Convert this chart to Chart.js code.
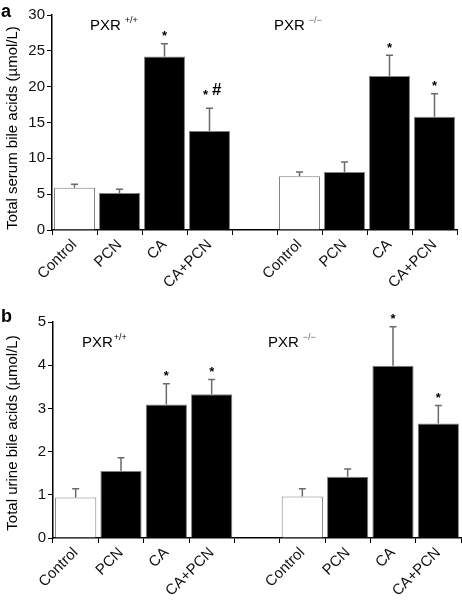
<!DOCTYPE html>
<html>
<head>
<meta charset="utf-8">
<script src="https://cdn.jsdelivr.net/npm/chart.js@4"></script>
<style>
  html, body { margin: 0; padding: 0; background: #fff; }
  .panel { position: relative; width: 462px; }
  canvas { display: block; }
</style>
</head>
<body>
<div class="panel" style="height:300px"><canvas id="serumChart" width="462" height="300"></canvas></div>
<div class="panel" style="height:302px"><canvas id="urineChart" width="462" height="302"></canvas></div>
<script>
// categories (empty slot separates the two genotypes)
const groups = ['Control', 'PCN', 'CA', 'CA+PCN', '', 'Control', 'PCN', 'CA', 'CA+PCN'];
const barColors = ['#ffffff', '#000000', '#000000', '#000000', '#000000', '#ffffff', '#000000', '#000000', '#000000'];

// panel a - serum
const serumValues = [5.9, 5.15, 24.2, 13.8, null, 7.5, 8.1, 21.5, 15.8];
const serumErrors = [0.5, 0.55, 1.8, 3.2, null, 0.6, 1.4, 2.9, 3.2];
const serumMarks = ['', '', '*', '*#', '', '', '', '*', '*'];
const serumTicks = [0, 5, 10, 15, 20, 25, 30];

// panel b - urine
const urineValues = [0.94, 1.55, 3.09, 3.33, null, 0.96, 1.42, 3.99, 2.65];
const urineErrors = [0.2, 0.31, 0.48, 0.34, null, 0.18, 0.18, 0.9, 0.42];
const urineMarks = ['', '', '*', '*', '', '', '', '*', '*'];
const urineTicks = [0, 1, 2, 3, 4, 5];

const FONT = '"Liberation Sans", Arial, sans-serif';

// error bars + significance marks, drawn through the chart scales
const errorBarPlugin = {
    id: 'errorBars',
    afterDatasetsDraw(chart, args, opts) {
        const ctx = chart.ctx;
        const xs = chart.scales.x, ys = chart.scales.y;
        ctx.save();
        opts.values.forEach((v, i) => {
            if (v == null) return;
            const x = xs.getPixelForValue(i);
            const y0 = ys.getPixelForValue(v);
            const y1 = ys.getPixelForValue(v + opts.errors[i]);
            ctx.strokeStyle = '#6a6a6a';
            ctx.lineWidth = 1.5;
            ctx.beginPath();
            ctx.moveTo(x, y0);
            ctx.lineTo(x, y1);
            ctx.moveTo(x - 3.5, y1);
            ctx.lineTo(x + 3.5, y1);
            ctx.stroke();
            const mark = opts.marks[i];
            if (mark === '*') {
                ctx.fillStyle = '#000';
                ctx.font = 'bold 13px ' + FONT;
                ctx.textAlign = 'center';
                ctx.textBaseline = 'middle';
                ctx.fillText('*', x, y1 - 7);
            } else if (mark === '*#') {
                ctx.fillStyle = '#000';
                ctx.font = 'bold 13px ' + FONT;
                ctx.textAlign = 'center';
                ctx.textBaseline = 'middle';
                ctx.fillText('*', x - 4, y1 - 13);
                ctx.font = 'italic bold 17px ' + FONT;
                ctx.fillText('#', x + 7, y1 - 18);
            }
        });
        ctx.restore();
    }
};

// panel letter, y-axis title and genotype labels
const annotatePlugin = {
    id: 'annotate',
    afterDraw(chart, args, opts) {
        const ctx = chart.ctx;
        ctx.save();
        ctx.fillStyle = '#000';
        ctx.textBaseline = 'middle';
        ctx.font = 'bold 18px ' + FONT;
        ctx.textAlign = 'left';
        ctx.fillText(opts.letter, 1, opts.letterY);

        ctx.translate(opts.titleX, opts.titleY);
        ctx.rotate(-Math.PI / 2);
        ctx.textAlign = 'center';
        ctx.font = '15px ' + FONT;
        ctx.fillText(opts.title, 0, 0);
        ctx.restore();

        ctx.save();
        ctx.fillStyle = '#000';
        ctx.textBaseline = 'middle';
        ctx.textAlign = 'left';
        opts.labels.forEach(l => {
            ctx.font = '15px ' + FONT;
            ctx.fillText('PXR', l.x, l.y);
            const w = ctx.measureText('PXR').width;
            ctx.font = '9px ' + FONT;
            ctx.fillStyle = l.supColor || '#000';
            ctx.fillText(l.sup, l.x + w + l.gap, l.y - 5);
            ctx.fillStyle = '#000';
        });
        ctx.restore();
    }
};

function makeChart(id, values, errors, marks, ticks, yMax, area, annot) {
    return new Chart(document.getElementById(id), {
        type: 'bar',
        data: {
            labels: groups,
            datasets: [{
                data: values,
                backgroundColor: barColors,
                borderColor: '#808080',
                borderWidth: 1,
                categoryPercentage: 1,
                barPercentage: 0.91
            }]
        },
        options: {
            responsive: false,
            animation: false,
            layout: { padding: { top: area.top, right: area.right, left: 0, bottom: 0 } },
            plugins: {
                legend: { display: false },
                tooltip: { enabled: false },
                errorBars: { values: values, errors: errors, marks: marks },
                annotate: annot
            },
            scales: {
                x: {
                    grid: { display: true, drawOnChartArea: false, drawTicks: true, tickLength: 5, color: '#000', offset: true },
                    border: { color: '#000', width: 1.5 },
                    ticks: {
                        color: '#111',
                        font: { family: FONT, size: 15 },
                        maxRotation: 45,
                        minRotation: 45,
                        autoSkip: false,
                        padding: 1
                    },
                    afterFit(scale) { scale.height = area.xHeight; }
                },
                y: {
                    min: 0,
                    max: yMax,
                    afterBuildTicks(scale) { scale.ticks = ticks.map(v => ({ value: v })); },
                    grid: { display: true, drawOnChartArea: false, drawTicks: true, tickLength: 5, color: '#000' },
                    border: { color: '#000', width: 1.5 },
                    ticks: {
                        color: '#111',
                        font: { family: FONT, size: 15 },
                        padding: 2
                    },
                    afterFit(scale) { scale.width = area.left; }
                }
            }
        },
        plugins: [errorBarPlugin, annotatePlugin]
    });
}

makeChart('serumChart', serumValues, serumErrors, serumMarks, serumTicks, 30,
    { top: 15, right: 5, left: 52, xHeight: 70 },
    {
        letter: 'a', letterY: 12, titleX: 13, titleY: 128,
        title: 'Total serum bile acids (\u00b5mol/L)',
        labels: [
            { x: 90, y: 26, sup: '+/+', gap: 4 },
            { x: 274, y: 26, sup: '\u2212/\u2212', gap: 4, supColor: '#666' }
        ]
    });

makeChart('urineChart', urineValues, urineErrors, urineMarks, urineTicks, 5,
    { top: 22, right: 1, left: 53, xHeight: 64 },
    {
        letter: 'b', letterY: 17, titleX: 13, titleY: 133,
        title: 'Total urine bile acids (\u00b5mol/L)',
        labels: [
            { x: 82, y: 43, sup: '+/+', gap: 1 },
            { x: 268, y: 43, sup: '\u2212/\u2212', gap: 4, supColor: '#666' }
        ]
    });
</script>
</body>
</html>
